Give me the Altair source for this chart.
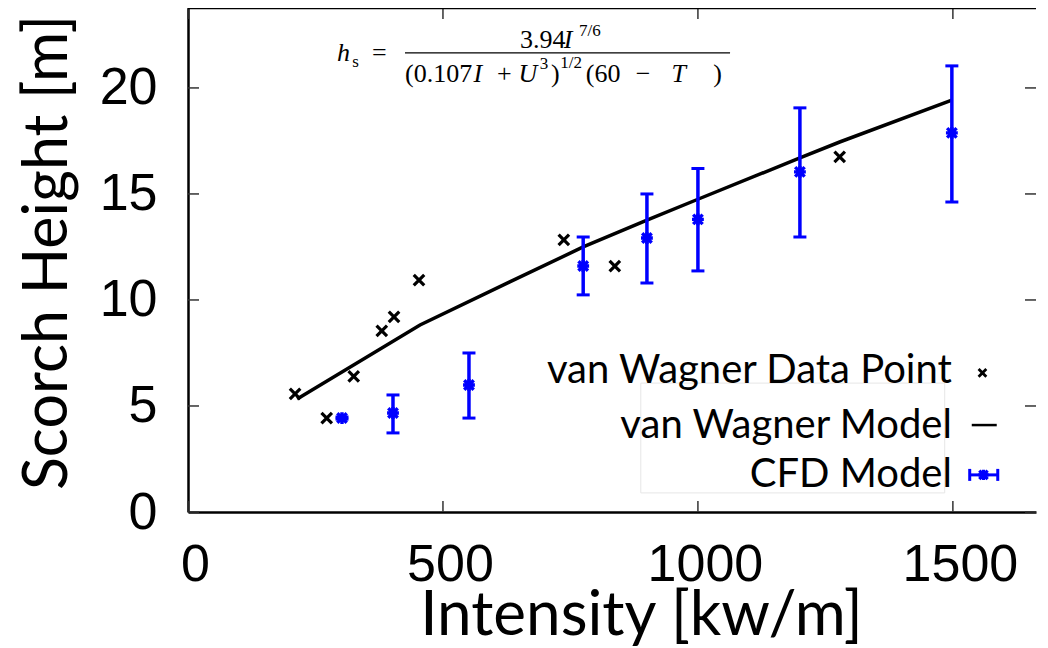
import altair as alt
import pandas as pd

# ---------------- data ----------------
vw_I = [210, 272, 325, 380, 404, 453, 737, 837, 1278]
vw_h = [5.57, 4.43, 6.40, 8.54, 9.20, 10.94, 12.83, 11.60, 16.75]

model_I = [214, 455, 631, 775, 900, 1000, 1200, 1278, 1498]
model_h = [5.33, 8.82, 10.85, 12.50, 13.77, 14.75, 16.70, 17.45, 19.43]

cfd_I = [302, 402, 551, 775, 900, 1000, 1200, 1498]
cfd_h = [4.43, 4.67, 5.99, 11.60, 12.92, 13.80, 16.04, 17.88]
cfd_lo = [4.38, 3.73, 4.43, 10.24, 10.80, 11.37, 12.97, 14.62]
cfd_hi = [4.48, 5.52, 7.50, 12.97, 15.00, 16.20, 19.06, 21.04]

x_ticks = [0, 500, 1000, 1500]
y_ticks = [0, 5, 10, 15, 20]

legend_labels = ["van Wagner Data Point", "van Wagner Model", "CFD Model"]

# ---------------- layout (annotation placement, data units) ----------------
W, H = 848, 504
XDOM = [0, 1663]
YDOM = [0, 23.77]
xs = alt.Scale(domain=XDOM, nice=False, zero=False)
ys = alt.Scale(domain=YDOM, nice=False, zero=False)

leg_text_x = 1498
leg_text_y = [6.08, 3.49, 1.18]
leg_sym_x = 1558
leg_sym_y = [6.56, 4.10, 1.75]

BLUE = "#0000ff"
XMARK = "M-1,-1L1,1M-1,1L1,-1"
STAR = "M-1,-1L1,1M-1,1L1,-1M0,-1.25L0,1.25M-1.25,0L1.25,0"

df_vw = pd.DataFrame({"I": vw_I, "h": vw_h})
df_model = pd.DataFrame({"I": model_I, "h": model_h})
df_cfd = pd.DataFrame({"I": cfd_I, "h": cfd_h, "lo": cfd_lo, "hi": cfd_hi})

x_axis = alt.Axis(values=x_ticks, format="d", labelFont="Liberation Sans", labelFontSize=52,
                  labelColor="black", labelPadding=27, labelOffset=7, labelFlush=False,
                  labelOverlap=False, ticks=False, tickSize=0, domain=True,
                  domainColor="black", domainWidth=2.5, grid=False,
                  title="Intensity [kw/m]", titleFont="Lato", titleFontSize=62,
                  titleFontWeight="normal", titleColor="black", titleX=453, titleY=122,
                  titleAlign="center", titleBaseline="alphabetic")
y_axis = alt.Axis(values=y_ticks, format="d", labelFont="Liberation Sans", labelFontSize=52,
                  labelColor="black", labelPadding=31, labelFlush=False,
                  labelOverlap=False, ticks=False, tickSize=0, domain=True,
                  domainColor="black", domainWidth=2.5, grid=False,
                  title="Scorch Height [m]", titleFont="Lato", titleFontSize=61,
                  titleFontWeight="normal", titleColor="black", titleX=-122, titleY=244,
                  titleAngle=270, titleAlign="center", titleBaseline="alphabetic")


def X(field="I"):
    return alt.X(f"{field}:Q", scale=xs, axis=x_axis)


def Y(field="h"):
    return alt.Y(f"{field}:Q", scale=ys, axis=y_axis)


model_line = alt.Chart(df_model).mark_line(color="black", strokeWidth=3.5).encode(x=X(), y=Y())

vw_pts = alt.Chart(df_vw).mark_point(shape=XMARK, size=110, strokeWidth=3.2,
                                     color="black", filled=False, opacity=1).encode(x=X(), y=Y())

cfd_bar = alt.Chart(df_cfd).mark_rule(color=BLUE, strokeWidth=3.5).encode(
    x=X(), y=Y("lo"), y2="hi")
cfd_cap_lo = alt.Chart(df_cfd).mark_tick(color=BLUE, orient="horizontal", size=13,
                                         thickness=3, opacity=1).encode(x=X(), y=Y("lo"))
cfd_cap_hi = alt.Chart(df_cfd).mark_tick(color=BLUE, orient="horizontal", size=13,
                                         thickness=3, opacity=1).encode(x=X(), y=Y("hi"))
cfd_pts = alt.Chart(df_cfd).mark_point(shape=STAR, size=90, strokeWidth=3.4,
                                       color=BLUE, filled=False, opacity=1).encode(x=X(), y=Y())

# frame ticks (mirrored, inward)
df_xt = pd.DataFrame({"I": x_ticks})
df_yt = pd.DataFrame({"h": y_ticks})
tick_style = dict(color="#333333", strokeWidth=1.5)
xt_bottom = alt.Chart(df_xt).mark_rule(**tick_style).encode(
    x=X(), y=alt.value(H), y2=alt.value(H - 11))
xt_top = alt.Chart(df_xt).mark_rule(**tick_style).encode(
    x=X(), y=alt.value(0), y2=alt.value(11))
yt_left = alt.Chart(df_yt).mark_rule(**tick_style).encode(
    y=Y(), x=alt.value(0), x2=alt.value(11))
yt_right = alt.Chart(df_yt).mark_rule(**tick_style).encode(
    y=Y(), x=alt.value(W - 11), x2=alt.value(W))
top_line = alt.Chart(pd.DataFrame({"a": [0]})).mark_rule(color="black", strokeWidth=2.5).encode(
    x=alt.value(0), x2=alt.value(W), y=alt.value(0))

# legend (drawn manually: label on the left, symbol on the right)
df_leg = pd.DataFrame({"t": legend_labels, "I": [leg_text_x] * 3, "h": leg_text_y})
leg_text = alt.Chart(df_leg).mark_text(font="Lato", fontSize=40, align="right",
                                       baseline="alphabetic", color="black").encode(
    x=X(), y=Y(), text="t:N")
leg_box = alt.Chart(pd.DataFrame({"I": [888], "I2": [1484], "h": [0.9], "h2": [6.08]})).mark_rect(
    fill=None, stroke="#e6e6e6", strokeWidth=1).encode(x=X(), x2="I2", y=Y(), y2="h2")
leg_x = alt.Chart(pd.DataFrame({"I": [leg_sym_x], "h": [leg_sym_y[0]]})).mark_point(
    shape=XMARK, size=60, strokeWidth=2.8, color="black", filled=False, opacity=1).encode(x=X(), y=Y())
leg_line = alt.Chart(pd.DataFrame({"I": [leg_sym_x - 21], "I2": [leg_sym_x + 28],
                                   "h": [leg_sym_y[1]]})).mark_rule(color="black", strokeWidth=2.5).encode(
    x=X(), x2="I2", y=Y())
leg_eb = alt.Chart(pd.DataFrame({"I": [leg_sym_x - 25], "I2": [leg_sym_x + 30],
                                 "h": [leg_sym_y[2]]})).mark_rule(color=BLUE, strokeWidth=3).encode(
    x=X(), x2="I2", y=Y())
leg_caps = alt.Chart(pd.DataFrame({"I": [leg_sym_x - 25, leg_sym_x + 30],
                                   "h": [leg_sym_y[2]] * 2})).mark_tick(
    color=BLUE, orient="vertical", size=12, thickness=3, opacity=1).encode(x=X(), y=Y())
leg_star = alt.Chart(pd.DataFrame({"I": [leg_sym_x + 2], "h": [leg_sym_y[2]]})).mark_point(
    shape=STAR, size=70, strokeWidth=3.2, color=BLUE, filled=False, opacity=1).encode(x=X(), y=Y())

# formula annotation
f_normal = pd.DataFrame({
    "t": ["=", "3.94", "(0.107", "+", ")", "(60", "\u2212", ")"],
    "I": [361, 651, 425.5, 606, 712, 780, 878, 1030],
    "h": [21.27, 21.89, 20.28, 20.28, 20.28, 20.28, 20.28, 20.28],
})
f_italic = pd.DataFrame({
    "t": ["h", "I", "I", "U", "T"],
    "I": [292, 737, 560, 648, 948],
    "h": [21.27, 21.89, 20.28, 20.28, 20.28],
})
f_small = pd.DataFrame({
    "t": ["s", "7/6", "3", "1/2"],
    "I": [322, 767, 690, 730],
    "h": [20.99, 22.45, 20.9, 20.95],
})
fn = alt.Chart(f_normal).mark_text(font="Liberation Serif", fontSize=26, align="left",
                                   baseline="alphabetic", color="black").encode(x=X(), y=Y(), text="t:N")
fi = alt.Chart(f_italic).mark_text(font="Liberation Serif", fontSize=26, fontStyle="italic",
                                   align="left", baseline="alphabetic", color="black").encode(
    x=X(), y=Y(), text="t:N")
fs = alt.Chart(f_small).mark_text(font="Liberation Serif", fontSize=17, align="left",
                                  baseline="alphabetic", color="black").encode(x=X(), y=Y(), text="t:N")
fbar = alt.Chart(pd.DataFrame({"I": [425.5], "I2": [1063], "h": [21.65]})).mark_rule(
    color="black", strokeWidth=1.2).encode(x=X(), x2="I2", y=Y())

chart = alt.layer(
    model_line, leg_box, xt_bottom, xt_top, yt_left, yt_right, top_line,
    cfd_bar, cfd_cap_lo, cfd_cap_hi, cfd_pts, vw_pts,
    leg_text, leg_x, leg_line, leg_eb, leg_caps, leg_star,
    fn, fi, fs, fbar,
).properties(
    width=W, height=H,
    autosize=alt.AutoSizeParams(type="none"),
    padding={"left": 180, "top": 0, "right": 4, "bottom": 138},
    background="white",
).configure_view(stroke=None)

chart.save("out.html", embed_options={"renderer": "svg", "actions": False})
